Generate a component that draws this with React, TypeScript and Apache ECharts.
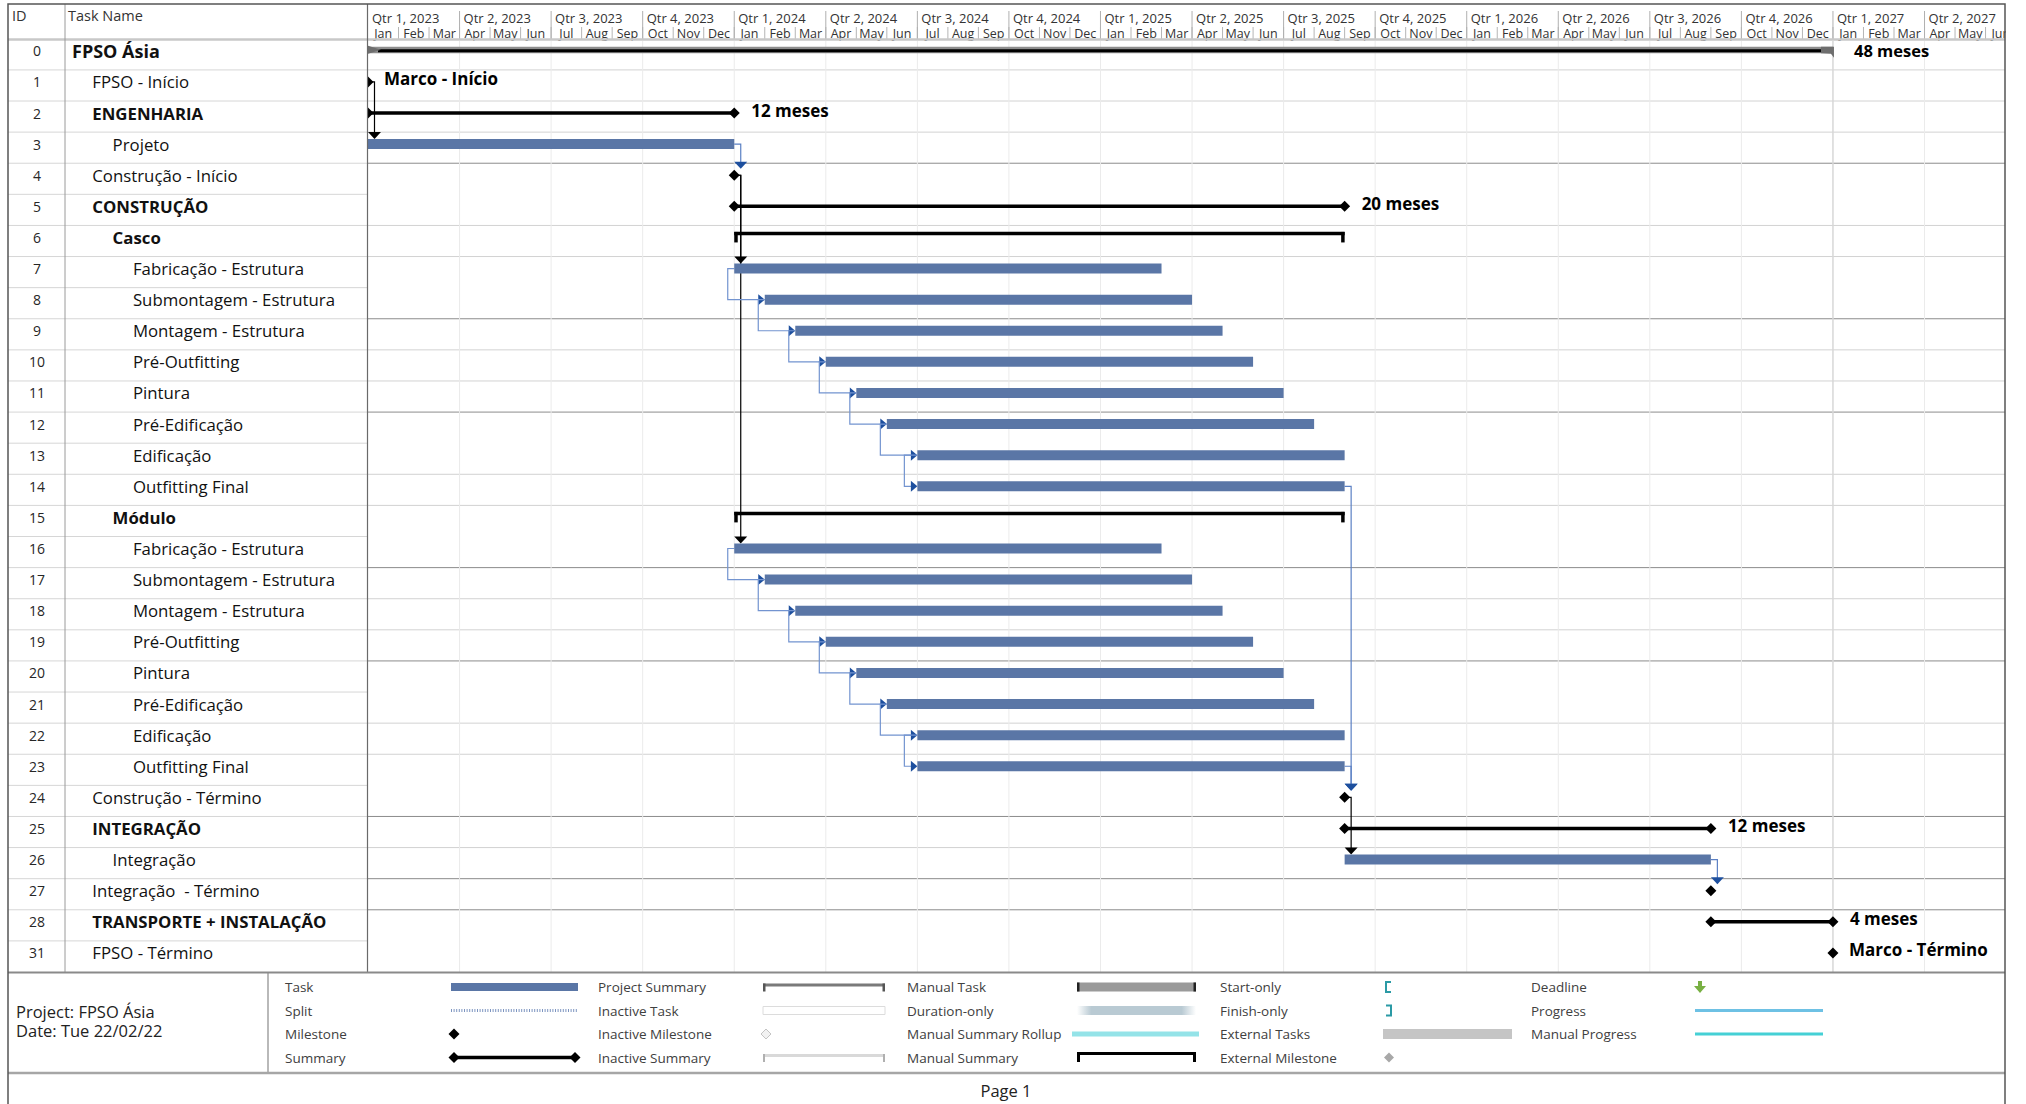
import React, { useEffect, useRef } from "react";
import * as echarts from "echarts";

// ---------------- data ----------------
const taskIds = [0, 1, 2, 3, 4, 5, 6, 7, 8, 9, 10, 11, 12, 13, 14, 15, 16, 17, 18, 19, 20, 21, 22, 23, 24, 25, 26, 27, 28, 31];
const taskNames = [
  "FPSO Ásia", "FPSO - Início", "ENGENHARIA", "Projeto", "Construção - Início", "CONSTRUÇÃO", "Casco",
  "Fabricação - Estrutura", "Submontagem - Estrutura", "Montagem - Estrutura", "Pré-Outfitting", "Pintura",
  "Pré-Edificação", "Edificação", "Outfitting Final", "Módulo",
  "Fabricação - Estrutura", "Submontagem - Estrutura", "Montagem - Estrutura", "Pré-Outfitting", "Pintura",
  "Pré-Edificação", "Edificação", "Outfitting Final", "Construção - Término", "INTEGRAÇÃO", "Integração",
  "Integração  - Término", "TRANSPORTE + INSTALAÇÃO", "FPSO - Término",
];
const outlineLevels = [0, 1, 1, 2, 1, 1, 2, 3, 3, 3, 3, 3, 3, 3, 3, 2, 3, 3, 3, 3, 3, 3, 3, 3, 1, 1, 2, 1, 1, 1];
const taskTypes = [
  "project", "milestone", "summary", "task", "milestone", "summary", "manual",
  "task", "task", "task", "task", "task", "task", "task", "task", "manual",
  "task", "task", "task", "task", "task", "task", "task", "task",
  "milestone", "summary", "task", "milestone", "summary", "milestone",
];
// months counted from Jan 2023
const startMonth = [0, 0, 0, 0, 12, 12, 12, 12, 13, 14, 15, 16, 17, 18, 18, 12, 12, 13, 14, 15, 16, 17, 18, 18, 32, 32, 32, 44, 44, 48];
const finishMonth = [48, 0, 12, 12, 12, 32, 32, 26, 27, 28, 29, 30, 31, 32, 32, 32, 26, 27, 28, 29, 30, 31, 32, 32, 32, 44, 44, 44, 48, 48];
const barLabelText = [
  "48 meses", "Marco - Início", "12 meses", "", "", "20 meses", "", "", "", "", "", "", "", "", "", "",
  "", "", "", "", "", "", "", "", "", "12 meses", "", "", "4 meses", "Marco - Término",
];
// dependencies (row indexes)
const linkFrom = [1, 3, 4, 4, 7, 8, 9, 10, 11, 12, 13, 16, 17, 18, 19, 20, 21, 22, 14, 23, 24, 26];
const linkTo = [3, 4, 7, 16, 8, 9, 10, 11, 12, 13, 14, 17, 18, 19, 20, 21, 22, 23, 24, 24, 26, 27];
const linkType = ["FS", "FS", "FS", "FS", "SS", "SS", "SS", "SS", "SS", "SS", "SS", "SS", "SS", "SS", "SS", "SS", "SS", "SS", "FS", "FS", "FS", "FS"];

const quarterLabels = [
  "Qtr 1, 2023", "Qtr 2, 2023", "Qtr 3, 2023", "Qtr 4, 2023",
  "Qtr 1, 2024", "Qtr 2, 2024", "Qtr 3, 2024", "Qtr 4, 2024",
  "Qtr 1, 2025", "Qtr 2, 2025", "Qtr 3, 2025", "Qtr 4, 2025",
  "Qtr 1, 2026", "Qtr 2, 2026", "Qtr 3, 2026", "Qtr 4, 2026",
  "Qtr 1, 2027", "Qtr 2, 2027",
];
const monthAbbr = ["Jan", "Feb", "Mar", "Apr", "May", "Jun", "Jul", "Aug", "Sep", "Oct", "Nov", "Dec"];
const monthsShown = 54;

const legendLabels = [
  ["Task", "Split", "Milestone", "Summary"],
  ["Project Summary", "Inactive Task", "Inactive Milestone", "Inactive Summary"],
  ["Manual Task", "Duration-only", "Manual Summary Rollup", "Manual Summary"],
  ["Start-only", "Finish-only", "External Tasks", "External Milestone"],
  ["Deadline", "Progress", "Manual Progress"],
];
const projectInfo = ["Project: FPSO Ásia", "Date: Tue 22/02/22"];
const pageLabel = "Page 1";

// hairline styling quirks of the printed gantt rows
const gridHidden = [5, 8, 13, 16, 21, 24, 29];
const gridDark = [4, 9, 12, 17, 20, 25, 27, 28];

// ---------------- layout ----------------
const FONT = "'Open Sans', 'Noto Sans', sans-serif";
const GANTT_L = 368;
const GANTT_R = 2005;
const MONTH_W = 30.52;
const TOP = 38.8;
const ROWS_H = 933.2;
const BOTTOM = TOP + ROWS_H;
const FRAME_L = 8;
const BAR_BLUE = "#5a76a6";
const LINK_BLUE = "#5b80c4";
const ARROW_BLUE = "#1d4f9e";

function diamondPts(cx: number, cy: number, h: number, minX: number) {
  if (cx - h >= minX) return [[cx - h, cy], [cx, cy - h], [cx + h, cy], [cx, cy + h]];
  const ext = h - Math.abs(minX - cx);
  const pts: number[][] = [[minX, cy - ext]];
  if (cx > minX) pts.push([cx, cy - h]);
  pts.push([cx + h, cy]);
  if (cx > minX) pts.push([cx, cy + h]);
  pts.push([minX, cy + ext]);
  return pts;
}

function rowTop(api: any, i: number) {
  const c = api.coord([0, i]);
  const band = api.size([0, 1])[1];
  return c[1] - band / 2;
}

function legendGraphics() {
  const els: any[] = [];
  const rowsY = [987, 1010.5, 1034, 1057.5];
  const colX = [285, 598, 907, 1220, 1531];
  const symX = [[451, 578], [763, 885], [1077, 1196], [1383, 1512], [1695, 1823]];
  legendLabels.forEach((col, ci) => {
    col.forEach((lab, ri) => {
      const y = rowsY[ri];
      els.push({
        type: "text", z: 30,
        style: { text: lab, x: colX[ci], y, textVerticalAlign: "middle", fontSize: 13.5, fontFamily: FONT, fill: "#404040" },
      });
      const [a, b] = symX[ci];
      const add = (o: any) => els.push({ z: 30, ...o });
      switch (lab) {
        case "Task":
          add({ type: "rect", shape: { x: a, y: y - 4, width: b - a, height: 8 }, style: { fill: BAR_BLUE } });
          break;
        case "Split":
          add({ type: "line", shape: { x1: a, y1: y, x2: b, y2: y }, style: { stroke: "#7d95c0", lineWidth: 3, lineDash: [1, 1.6] } });
          break;
        case "Milestone":
          add({ type: "polygon", shape: { points: diamondPts(a + 3, y, 5.5, 0) }, style: { fill: "#000" } });
          break;
        case "Summary":
          add({ type: "line", shape: { x1: a + 3, y1: y, x2: b - 3, y2: y }, style: { stroke: "#000", lineWidth: 3.5 } });
          add({ type: "polygon", shape: { points: diamondPts(a + 3, y, 5.5, 0) }, style: { fill: "#000" } });
          add({ type: "polygon", shape: { points: diamondPts(b - 3, y, 5.5, 0) }, style: { fill: "#000" } });
          break;
        case "Project Summary":
          add({ type: "line", shape: { x1: a, y1: y - 2, x2: b, y2: y - 2 }, style: { stroke: "#7a7a7a", lineWidth: 3 } });
          add({ type: "rect", shape: { x: a, y: y - 3.5, width: 2.5, height: 8 }, style: { fill: "#555" } });
          add({ type: "rect", shape: { x: b - 2.5, y: y - 3.5, width: 2.5, height: 8 }, style: { fill: "#555" } });
          break;
        case "Inactive Task":
          add({ type: "rect", shape: { x: a, y: y - 4, width: b - a, height: 8 }, style: { fill: "#fff", stroke: "#dcdcdc", lineWidth: 1 } });
          break;
        case "Inactive Milestone":
          add({ type: "polygon", shape: { points: diamondPts(a + 3, y, 5, 0) }, style: { fill: "#f2f2f2", stroke: "#c4c4c4", lineWidth: 1 } });
          break;
        case "Inactive Summary":
          add({ type: "line", shape: { x1: a, y1: y - 2, x2: b, y2: y - 2 }, style: { stroke: "#d9d9d9", lineWidth: 3 } });
          add({ type: "rect", shape: { x: a, y: y - 3.5, width: 2, height: 8 }, style: { fill: "#b0b0b0" } });
          add({ type: "rect", shape: { x: b - 2, y: y - 3.5, width: 2, height: 8 }, style: { fill: "#b0b0b0" } });
          break;
        case "Manual Task":
          add({ type: "rect", shape: { x: a, y: y - 4.5, width: b - a, height: 9 }, style: { fill: "#9a9a9a" } });
          add({ type: "rect", shape: { x: a, y: y - 4.5, width: 2.5, height: 9 }, style: { fill: "#222" } });
          add({ type: "rect", shape: { x: b - 2.5, y: y - 4.5, width: 2.5, height: 9 }, style: { fill: "#222" } });
          break;
        case "Duration-only":
          add({
            type: "rect", shape: { x: a, y: y - 4.5, width: b - a, height: 9 },
            style: {
              fill: new echarts.graphic.LinearGradient(0, 0, 1, 0, [
                { offset: 0, color: "#ffffff" }, { offset: 0.12, color: "#b9cad3" },
                { offset: 0.88, color: "#b9cad3" }, { offset: 1, color: "#ffffff" },
              ]),
            },
          });
          break;
        case "Manual Summary Rollup":
          add({ type: "rect", shape: { x: a - 5, y: y - 2.5, width: b - a + 8, height: 5 }, style: { fill: "#94e3e8" } });
          break;
        case "Manual Summary":
          add({ type: "line", shape: { x1: a, y1: y - 4, x2: b, y2: y - 4 }, style: { stroke: "#000", lineWidth: 3 } });
          add({ type: "rect", shape: { x: a, y: y - 5.5, width: 3, height: 10 }, style: { fill: "#000" } });
          add({ type: "rect", shape: { x: b - 3, y: y - 5.5, width: 3, height: 10 }, style: { fill: "#000" } });
          break;
        case "Start-only":
          add({ type: "polyline", shape: { points: [[a + 8, y - 5], [a + 3, y - 5], [a + 3, y + 5], [a + 8, y + 5]] }, style: { stroke: "#2b9aa5", lineWidth: 2, fill: "none" } });
          break;
        case "Finish-only":
          add({ type: "polyline", shape: { points: [[a + 3, y - 5], [a + 8, y - 5], [a + 8, y + 5], [a + 3, y + 5]] }, style: { stroke: "#2b9aa5", lineWidth: 2, fill: "none" } });
          break;
        case "External Tasks":
          add({ type: "rect", shape: { x: a, y: y - 5, width: b - a, height: 10 }, style: { fill: "#c5c5c5" } });
          break;
        case "External Milestone":
          add({ type: "polygon", shape: { points: diamondPts(a + 6, y, 5, 0) }, style: { fill: "#a8a8a8" } });
          break;
        case "Deadline":
          add({ type: "rect", shape: { x: a + 3, y: y - 6, width: 4, height: 6 }, style: { fill: "#78b043" } });
          add({ type: "polygon", shape: { points: [[a - 1, y - 1], [a + 11, y - 1], [a + 5, y + 6]] }, style: { fill: "#78b043" } });
          break;
        case "Progress":
          add({ type: "line", shape: { x1: a, y1: y, x2: b, y2: y }, style: { stroke: "#6ec1e4", lineWidth: 3 } });
          break;
        case "Manual Progress":
          add({ type: "line", shape: { x1: a, y1: y, x2: b, y2: y }, style: { stroke: "#45d0d5", lineWidth: 3 } });
          break;
      }
    });
  });
  return els;
}

function chromeGraphics() {
  const g: any[] = [];
  const line = (x1: number, y1: number, x2: number, y2: number, stroke: string, lineWidth: number, z = 25) =>
    g.push({ type: "line", z, shape: { x1, y1, x2, y2 }, style: { stroke, lineWidth } });
  // white mask beyond the right frame (crops the header)
  g.push({ type: "rect", z: 24, shape: { x: GANTT_R + 1, y: 0, width: 40, height: 1104 }, style: { fill: "#fff" } });
  // header bottom
  line(FRAME_L, 39.5, GANTT_R, 39.5, "#c8c8c8", 2.5);
  // column separators
  line(65, 4, 65, BOTTOM, "#9a9a9a", 1);
  line(367.5, 4, 367.5, BOTTOM, "#6a6a6a", 1.2);
  // bottom of gantt / legend box
  line(FRAME_L, BOTTOM + 0.5, GANTT_R, BOTTOM + 0.5, "#8a8a8a", 1.8);
  line(268, BOTTOM, 268, 1073, "#8a8a8a", 1.2);
  line(FRAME_L, 1073, GANTT_R, 1073, "#a6a6a6", 2.5);
  // outer frame
  g.push({ type: "rect", z: 26, shape: { x: FRAME_L, y: 4, width: GANTT_R - FRAME_L, height: 1130 }, style: { fill: "none", stroke: "#555", lineWidth: 1.5 } });
  // header titles
  g.push({ type: "text", z: 30, style: { text: "ID", x: 12, y: 15, textVerticalAlign: "middle", fontSize: 14.5, fontFamily: FONT, fill: "#333" } });
  g.push({ type: "text", z: 30, style: { text: "Task Name", x: 68, y: 15, textVerticalAlign: "middle", fontSize: 14.5, fontFamily: FONT, fill: "#333" } });
  // project info
  g.push({ type: "text", z: 30, style: { text: projectInfo[0], x: 16, y: 1011, textVerticalAlign: "middle", fontSize: 16.5, fontFamily: FONT, fill: "#222" } });
  g.push({ type: "text", z: 30, style: { text: projectInfo[1], x: 16, y: 1030, textVerticalAlign: "middle", fontSize: 16.5, fontFamily: FONT, fill: "#222" } });
  g.push({ type: "text", z: 30, style: { text: pageLabel, x: 1006, y: 1090, textAlign: "center", textVerticalAlign: "middle", fontSize: 16.5, fontFamily: FONT, fill: "#222" } });
  return g.concat(legendGraphics());
}

function buildOption(): any {
  const rowsSeries = {
    type: "custom", z: 1, silent: true, clip: false,
    encode: { x: 0, y: 1 },
    data: taskIds.map((_, i) => [0, i]),
    renderItem: (_p: any, api: any) => {
      const i = api.value(1);
      const band = api.size([0, 1])[1];
      const top = rowTop(api, i);
      const bottom = top + band;
      const ty = top + 12;
      const tp = taskTypes[i];
      const isBold = tp === "summary" || tp === "manual" || tp === "project";
      const children: any[] = [
        { type: "text", style: { text: String(taskIds[i]), x: 37, y: ty, textAlign: "center", textVerticalAlign: "middle", fontSize: 14, fontFamily: FONT, fill: "#262626" } },
        {
          type: "text",
          style: {
            text: taskNames[i], x: 72 + outlineLevels[i] * 20.3, y: ty, textVerticalAlign: "middle",
            fontSize: i === 0 ? 18 : 16.8, fontWeight: isBold ? "bold" : "normal", fontFamily: FONT, fill: "#111",
          },
        },
      ];
      if (i < taskIds.length - 1) {
        children.push({ type: "line", shape: { x1: FRAME_L, y1: bottom, x2: 367, y2: bottom }, style: { stroke: "#d6d6d6", lineWidth: 1 } });
        if (gridHidden.indexOf(i + 1) < 0) {
          const dark = gridDark.indexOf(i + 1) >= 0;
          children.push({ type: "line", shape: { x1: GANTT_L, y1: bottom, x2: GANTT_R, y2: bottom }, style: { stroke: dark ? "#8c8c8c" : "#d2d2d2", lineWidth: 1 } });
        }
      }
      return { type: "group", children };
    },
  };

  const headerSeries = {
    type: "custom", z: 1, silent: true, clip: false,
    encode: { x: 0, y: 1 },
    data: Array.from({ length: monthsShown }, (_, m) => [m, 0]),
    renderItem: (_p: any, api: any) => {
      const m = api.value(0);
      const x0 = api.coord([m, 0])[0];
      const x1 = api.coord([m + 1, 0])[0];
      const children: any[] = [
        { type: "text", style: { text: monthAbbr[m % 12], x: (x0 + x1) / 2, y: 33, textAlign: "center", textVerticalAlign: "middle", fontSize: 12.5, fontFamily: FONT, fill: "#333" } },
      ];
      if (m > 0) children.push({ type: "line", shape: { x1: x0, y1: 27, x2: x0, y2: 39 }, style: { stroke: "#b5b5b5", lineWidth: 1 } });
      if (m % 3 === 0) {
        const q = m / 3;
        children.push({ type: "text", style: { text: quarterLabels[q], x: x0 + 4, y: 18, textVerticalAlign: "middle", fontSize: 13, fontFamily: FONT, fill: "#333" } });
        if (m > 0) {
          children.push({ type: "line", shape: { x1: x0, y1: 11, x2: x0, y2: 39 }, style: { stroke: "#b0b0b0", lineWidth: 1 } });
          children.push({ type: "line", shape: { x1: x0, y1: 41, x2: x0, y2: BOTTOM }, style: { stroke: "#ebebeb", lineWidth: 1 } });
        }
      }
      return { type: "group", children };
    },
  };

  const linksSeries = {
    type: "custom", z: 2, silent: true, clip: false,
    encode: { x: 0, y: 1 },
    data: linkFrom.map((f, k) => [f, linkTo[k]]),
    renderItem: (params: any, api: any) => {
      const k = params.dataIndex;
      const p = linkFrom[k];
      const q = linkTo[k];
      const cyP = rowTop(api, p) + 12;
      const cyQ = rowTop(api, q) + 12;
      if (linkType[k] === "FS") {
        const fromMilestone = taskTypes[p] === "milestone";
        const xe = api.coord([finishMonth[p], p])[0];
        const vx = xe + 6.5;
        const tipY = taskTypes[q] === "milestone" ? cyQ - 6.5 : cyQ - 5;
        const col = fromMilestone ? "#000" : LINK_BLUE;
        const acol = fromMilestone ? "#000" : ARROW_BLUE;
        return {
          type: "group",
          children: [
            { type: "polyline", shape: { points: [[xe, cyP], [vx, cyP], [vx, tipY - 6]] }, style: { stroke: col, lineWidth: 1.2, fill: "none" } },
            { type: "polygon", shape: { points: [[vx - 6.5, tipY - 7], [vx + 6.5, tipY - 7], [vx, tipY]] }, style: { fill: acol } },
          ],
        };
      }
      const xsP = api.coord([startMonth[p], p])[0];
      const xsQ = api.coord([startMonth[q], q])[0];
      const off = xsQ > xsP + 1 ? 6.5 : 13;
      const vx = xsP - off;
      return {
        type: "group",
        children: [
          { type: "polyline", shape: { points: [[xsP, cyP], [vx, cyP], [vx, cyQ], [xsQ - 6, cyQ]] }, style: { stroke: "#7394d0", lineWidth: 1.2, fill: "none" } },
          { type: "polygon", shape: { points: [[xsQ - 6.5, cyQ - 5.5], [xsQ, cyQ], [xsQ - 6.5, cyQ + 5.5]] }, style: { fill: ARROW_BLUE } },
        ],
      };
    },
  };

  const barsSeries = {
    type: "custom", z: 3, silent: true, clip: false,
    encode: { x: [0, 1], y: 2 },
    data: taskIds.map((_, i) => [startMonth[i], finishMonth[i], i]),
    renderItem: (_p: any, api: any) => {
      const i = api.value(2);
      const s = api.coord([api.value(0), i]);
      const e = api.coord([api.value(1), i]);
      const minX = api.coord([0, i])[0];
      const top = rowTop(api, i);
      const cy = top + 12;
      const xs = s[0];
      const xe = e[0];
      const tp = taskTypes[i];
      const children: any[] = [];
      let labelDx = 17;
      if (tp === "task") {
        children.push({ type: "rect", shape: { x: xs, y: cy - 5, width: xe - xs, height: 10 }, style: { fill: BAR_BLUE } });
      } else if (tp === "summary") {
        children.push({ type: "line", shape: { x1: xs, y1: cy, x2: xe, y2: cy }, style: { stroke: "#000", lineWidth: 3.5 } });
        children.push({ type: "polygon", shape: { points: diamondPts(xs, cy, 5.5, minX) }, style: { fill: "#000" } });
        children.push({ type: "polygon", shape: { points: diamondPts(xe, cy, 5.5, minX) }, style: { fill: "#000" } });
      } else if (tp === "milestone") {
        children.push({ type: "polygon", shape: { points: diamondPts(xs, cy, 5.5, minX) }, style: { fill: "#000" } });
        labelDx = 16;
      } else if (tp === "manual") {
        children.push({ type: "line", shape: { x1: xs, y1: cy - 4, x2: xe, y2: cy - 4 }, style: { stroke: "#000", lineWidth: 3.5 } });
        children.push({ type: "rect", shape: { x: xs, y: cy - 5.5, width: 3.5, height: 10.5 }, style: { fill: "#000" } });
        children.push({ type: "rect", shape: { x: xe - 3.5, y: cy - 5.5, width: 3.5, height: 10.5 }, style: { fill: "#000" } });
      } else if (tp === "project") {
        // project finish line
        children.push({ type: "line", shape: { x1: xe, y1: 41, x2: xe, y2: BOTTOM }, style: { stroke: "#cdcdcd", lineWidth: 1 } });
        children.push({ type: "rect", shape: { x: xs, y: cy - 4, width: xe - xs, height: 6.5 }, style: { fill: "#8e8e8e" } });
        children.push({ type: "line", shape: { x1: xs + 10, y1: cy, x2: xe - 10, y2: cy }, style: { stroke: "#000", lineWidth: 3 } });
        children.push({ type: "polygon", shape: { points: [[xs, cy - 5], [xs + 13, cy - 1], [xs, cy + 3]] }, style: { fill: "#6e6e6e" } });
        children.push({ type: "polygon", shape: { points: [[xe - 12, cy - 4], [xe + 1, cy - 4], [xe + 1, cy + 7], [xe - 2, cy + 3], [xe - 12, cy + 2.5]] }, style: { fill: "#6e6e6e" } });
        labelDx = 21;
      }
      const lab = barLabelText[i];
      if (lab) {
        const isProj = tp === "project";
        children.push({
          type: "text",
          style: { text: lab, x: xe + labelDx, y: isProj ? cy - 0.5 : cy - 3, textVerticalAlign: "middle", fontSize: isProj ? 16.5 : 17, fontWeight: "bold", fontFamily: FONT, fill: "#000" },
        });
      }
      return { type: "group", children };
    },
  };

  return {
    animation: false,
    backgroundColor: "#ffffff",
    grid: { left: GANTT_L, top: TOP, width: GANTT_R - GANTT_L, height: ROWS_H, show: false },
    xAxis: { type: "value", min: 0, max: (GANTT_R - GANTT_L) / MONTH_W, show: false },
    yAxis: { type: "category", data: taskIds.map(String), inverse: true, show: false },
    series: [rowsSeries, headerSeries, linksSeries, barsSeries],
    graphic: { elements: chromeGraphics() },
  };
}

export default function App() {
  const ref = useRef<HTMLDivElement>(null);
  useEffect(() => {
    if (!ref.current) return;
    const chart = echarts.init(ref.current, undefined, { renderer: "svg" });
    chart.setOption(buildOption());
    return () => chart.dispose();
  }, []);
  return (
    <div
      ref={ref}
      style={{ position: "fixed", left: 0, top: 0, width: 2026, height: 1104, background: "#fff" }}
    />
  );
}
